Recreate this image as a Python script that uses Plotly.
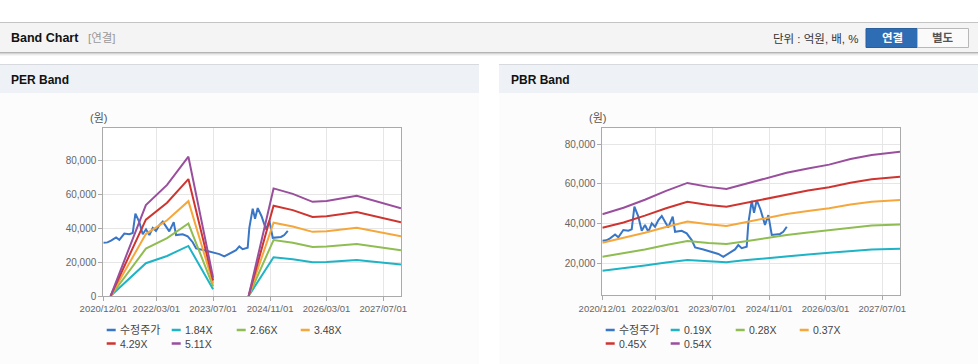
import plotly.graph_objects as go

W, H = 978, 364

# ---------------- data ----------------
price_dates = ["2020-12-01", "2021-01-05", "2021-02-05", "2021-03-20", "2021-04-17", "2021-05-30",
               "2021-07-12", "2021-08-10", "2021-09-02", "2021-10-06", "2021-11-04", "2021-12-02",
               "2021-12-31", "2022-01-29", "2022-02-26", "2022-03-27", "2022-04-25", "2022-05-23",
               "2022-06-20", "2022-07-28", "2022-08-17", "2022-10-13", "2022-11-25", "2023-01-07",
               "2023-02-05", "2023-04-17", "2023-06-28", "2023-08-24", "2023-10-05", "2023-11-17",
               "2024-01-14", "2024-02-11", "2024-03-11", "2024-04-23", "2024-05-07", "2024-06-05",
               "2024-06-25", "2024-07-18", "2024-08-20", "2024-09-27", "2024-10-26", "2024-11-24",
               "2025-02-03", "2025-03-03", "2025-04-02"]
price_values = [31400, 31600, 32600, 34500, 33100, 36800,
                36400, 37100, 48500, 43500, 36400, 39300,
                35900, 40100, 38400, 41800, 43800, 41000,
                38100, 43500, 35900, 36400, 35100, 31700,
                28000, 27000, 25900, 24700, 23300, 25000,
                27000, 29200, 27600, 28400, 40100, 51500,
                45500, 51800, 47000, 39300, 44300, 34300,
                34800, 35900, 38400]

per_dates = ["2021-02-01", "2021-12-01", "2022-06-01", "2022-12-01", "2023-07-01", "2023-10-01",
             "2024-05-01", "2024-12-01", "2025-05-15", "2025-11-01", "2026-03-01", "2026-11-15",
             "2027-11-30"]
per_names = ["1.84X", "2.66X", "3.48X", "4.29X", "5.11X"]
per_184 = [0, 19300, 23600, 29500, 4000, None, 0, 22800, 21700, 19900, 20100, 21200, 18600]
per_266 = [0, 27900, 34100, 42700, 5700, None, 0, 33000, 31400, 28900, 29100, 30700, 26900]
per_348 = [0, 36500, 44600, 55900, 7400, None, 0, 43200, 41000, 37800, 38100, 40200, 35200]
per_429 = [0, 45000, 55000, 68900, 9100, None, 0, 53200, 50600, 46600, 47000, 49500, 43400]
per_511 = [0, 53600, 65500, 82100, 10800, None, 0, 63400, 60200, 55500, 56000, 59000, 51700]

pbr_dates = ["2020-12-01", "2021-06-01", "2021-12-01", "2022-06-01", "2022-12-01", "2023-06-01",
             "2023-11-01", "2024-04-01", "2024-10-01", "2025-04-01", "2025-10-01", "2026-04-01",
             "2026-10-01", "2027-04-01", "2027-11-30"]
pbr_names = ["0.19X", "0.28X", "0.37X", "0.45X", "0.54X"]
pbr_019 = [16300, 17500, 18900, 20400, 21700, 21000, 20600, 21500, 22600, 23700, 24500, 25300, 26300, 27000, 27300]
pbr_028 = [23300, 25000, 27000, 29200, 31200, 30200, 29700, 31000, 32700, 34300, 35500, 36600, 38000, 39000, 39600]
pbr_037 = [30400, 32700, 35400, 38300, 41000, 39700, 38800, 40600, 42700, 44800, 46300, 47700, 49600, 51000, 51900]
pbr_045 = [37900, 40600, 44000, 47700, 51000, 49400, 48500, 50300, 52600, 54900, 56700, 58300, 60600, 62300, 63600]
pbr_054 = [44700, 48000, 52000, 56500, 60500, 58500, 57400, 59800, 62800, 65600, 67800, 69700, 72500, 74600, 76200]

price_name = "수정주가"
x_tickvals = ["2020-12-01", "2022-03-01", "2023-07-01", "2024-11-01", "2026-03-01", "2027-07-01"]
x_ticktext = ["2020/12/01", "2022/03/01", "2023/07/01", "2024/11/01", "2026/03/01", "2027/07/01"]
per_yticks = [0, 20000, 40000, 60000, 80000]
pbr_yticks = [20000, 40000, 60000, 80000]

# ---------------- style ----------------
PRICE_C = "#3a76c6"
BAND_C = ["#1fb3c6", "#8fbd52", "#f5a73b", "#cf3530", "#9a4f9d"]
FONT = "Liberation Sans, Noto Sans CJK KR, sans-serif"


def px(x):
    return x / W


def py(y):
    return 1 - y / H


fig = go.Figure()

# PER traces
fig.add_trace(go.Scatter(x=price_dates, y=price_values, name=price_name, mode="lines",
                         line=dict(color=PRICE_C, width=2), xaxis="x", yaxis="y"))
for nm, vals, c in zip(per_names, [per_184, per_266, per_348, per_429, per_511], BAND_C):
    fig.add_trace(go.Scatter(x=per_dates, y=vals, name=nm, mode="lines", connectgaps=False,
                             line=dict(color=c, width=2), xaxis="x", yaxis="y"))

# PBR traces
fig.add_trace(go.Scatter(x=price_dates, y=price_values, name=price_name, mode="lines",
                         line=dict(color=PRICE_C, width=2), xaxis="x2", yaxis="y2"))
for nm, vals, c in zip(pbr_names, [pbr_019, pbr_028, pbr_037, pbr_045, pbr_054], BAND_C):
    fig.add_trace(go.Scatter(x=pbr_dates, y=vals, name=nm, mode="lines",
                             line=dict(color=c, width=2), xaxis="x2", yaxis="y2"))

axis_common = dict(showline=True, linecolor="#aaaaaa", linewidth=1, mirror=True,
                   showgrid=True, gridcolor="#e6e6e6", gridwidth=1, zeroline=False,
                   ticks="outside", ticklen=4, tickcolor="#aaaaaa", tickangle=0)
xfont = dict(family=FONT, size=9.5, color="#666666")
yfont = dict(family=FONT, size=10, color="#666666")

xr = ["2020-11-30 12:00", "2027-11-30"]

fig.update_layout(
    autosize=True, margin=dict(l=0, r=0, t=0, b=0, autoexpand=False),
    paper_bgcolor="#ffffff", plot_bgcolor="#ffffff", showlegend=False,
    xaxis=dict(domain=[px(103.3), px(401)], anchor="y", type="date", range=xr,
               tickvals=x_tickvals, ticktext=x_ticktext, tickfont=xfont, **axis_common),
    yaxis=dict(domain=[py(296), py(128)], anchor="x", range=[0, 99000],
               tickvals=per_yticks, tickformat=",", tickfont=yfont, **axis_common),
    xaxis2=dict(domain=[px(602.3), px(900)], anchor="y2", type="date", range=xr,
                tickvals=x_tickvals, ticktext=x_ticktext, tickfont=xfont, **axis_common),
    yaxis2=dict(domain=[py(295.3), py(128.3)], anchor="x2", range=[3900, 88000],
                tickvals=pbr_yticks, tickformat=",", tickfont=yfont, **axis_common),
)

shapes = []


def rect(x0, y0, x1, y1, fill, line=None, lw=0):
    shapes.append(dict(type="rect", xref="paper", yref="paper", x0=px(x0), x1=px(x1),
                       y0=py(y1), y1=py(y0), fillcolor=fill,
                       line=dict(color=line or fill, width=lw), layer="below"))


def hline(x0, x1, y, color, w=1, layer="below"):
    shapes.append(dict(type="line", xref="paper", yref="paper", x0=px(x0), x1=px(x1),
                       y0=py(y), y1=py(y), line=dict(color=color, width=w), layer=layer))


# header bar
rect(0, 22, 978, 52.5, "#f4f4f4")
hline(0, 978, 22.5, "#c4c4c4")
hline(0, 978, 52.5, "#b3b3b3")
hline(0, 978, 53.5, "#d6d6d6")
hline(0, 978, 54.5, "#ebebeb")
hline(0, 978, 55.5, "#f6f6f6")

# panels
for x0, x1 in [(0, 479), (499, 978)]:
    rect(x0, 93, x1, 364, "#fcfcfc")
    rect(x0, 64.5, x1, 93, "#eef2f7")
    hline(x0, x1, 64.5, "#d6d9de")

# plot area backgrounds
rect(103.3, 128, 401, 296, "#ffffff")
rect(602.3, 128.3, 900, 295.3, "#ffffff")

# buttons
rect(866, 28.5, 917.5, 47.5, "#2e6db4", "#2a5f9e", 1)
rect(917.5, 28.5, 968.5, 47.5, "#fafafa", "#b8b8b8", 1)

annos = []


def text(x, y, s, size=12, color="#222", bold=False, xanchor="left", family=FONT):
    if bold:
        s = "<b>" + s + "</b>"
    annos.append(dict(xref="paper", yref="paper", x=px(x), y=py(y), text=s, showarrow=False,
                      xanchor=xanchor, yanchor="middle", borderpad=0,
                      font=dict(family=family, size=size, color=color)))


text(10, 38.5, "Band Chart", 12.5, "#111", True)
text(87, 38.5, "[연결]", 11.5, "#999999")
text(860, 38.5, "단위 : 억원, 배, %", 11.5, "#333333", xanchor="right")
text(892, 38, "연결", 11.5, "#ffffff", True, xanchor="center")
text(943, 38, "별도", 11.5, "#555555", True, xanchor="center")
text(10, 80, "PER Band", 12, "#111", True)
text(510, 80, "PBR Band", 12, "#111", True)
text(98, 118, "(원)", 11, "#555555", xanchor="center")
text(597, 118, "(원)", 11, "#555555", xanchor="center")

# custom legends
legend_names_per = [price_name] + per_names
legend_names_pbr = [price_name] + pbr_names
legend_colors = [PRICE_C] + BAND_C
slots = [(0, 330), (65, 330), (130, 330), (194, 330), (0, 343.5), (65, 343.5)]
for base, names in [(106.7, legend_names_per), (605.7, legend_names_pbr)]:
    for (dx, yy), nm, c in zip(slots, names, legend_colors):
        x0 = base + dx
        hline(x0, x0 + 9, yy, c, 2.5, layer="above")
        text(x0 + 12, yy, nm, 11 if nm == price_name else 10.5, "#444444")

fig.update_layout(shapes=shapes, annotations=annos)

fig.write_html("out.html", config={"displayModeBar": False, "responsive": False},
               default_width="978px;position:absolute;left:0;top:0;margin:0",
               default_height="364px",
               post_script="document.body.style.margin='0';document.body.style.overflow='hidden';")
